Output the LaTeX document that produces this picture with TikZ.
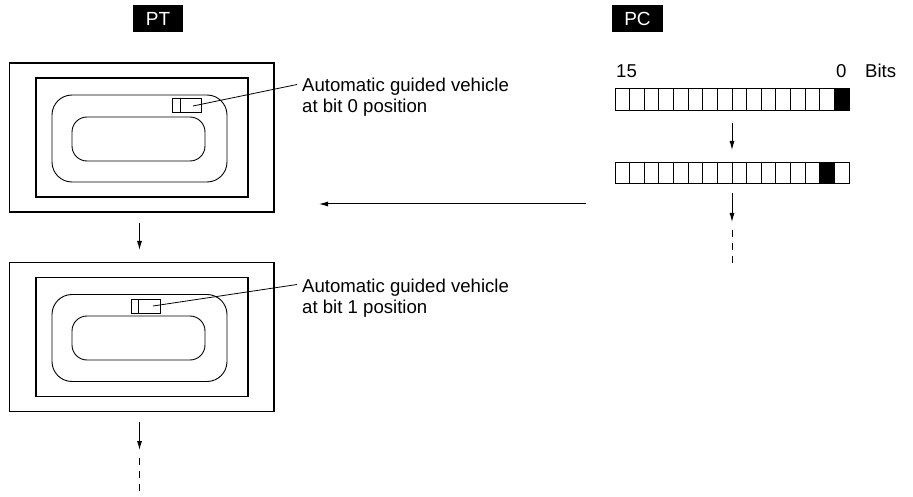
\documentclass[tikz,border=0pt]{standalone}
\usepackage{fontspec}
\setmainfont{Liberation Sans}
\usetikzlibrary{arrows.meta}
\begin{document}
\begin{tikzpicture}[x=1pt,y=-1pt,
  frameouter/.style={draw, line width=1.3pt, rectangle, inner sep=0pt, minimum width=264.5pt, minimum height=149pt},
  frameinner/.style={draw, line width=1.2pt, rectangle, inner sep=0pt, minimum width=212pt, minimum height=119pt},
  trackout/.style={draw, line width=0.9pt, rectangle, rounded corners=20pt, inner sep=0pt, minimum width=175pt, minimum height=87pt},
  trackin/.style={draw, line width=0.9pt, rectangle, rounded corners=15pt, inner sep=0pt, minimum width=133pt, minimum height=44pt},
  vehicle/.style={draw, line width=1pt, rectangle, inner sep=0pt, minimum width=29pt, minimum height=14pt},
  tag/.style={fill=black, text=white, inner sep=0pt, minimum width=50pt, minimum height=27pt, font=\fontsize{19}{22}\selectfont},
  lbl/.style={inner sep=0pt, anchor=base west, font=\fontsize{18.6}{21}\selectfont},
  cell/.style={draw, line width=0.9pt, rectangle, inner sep=0pt, minimum width=14.625pt, minimum height=22pt},
  darr/.style={line width=1pt, -{Latex[length=9pt,width=5pt]}},
  dashline/.style={line width=1pt, dash pattern=on 7pt off 6pt}
]
\useasboundingbox (0,0) rectangle (913,497);

% tags
\node[tag] (pt) at (158,18.5) {PT};
\node[tag, minimum width=51pt] (pc) at (637.5,18.5) {PC};

% Frame 1
\node[frameouter] (f1o) at (141.75,137.5) {};
\node[frameinner] (f1i) at (142,137.5) {};
\node[trackout] (f1t) at (139.5,138.5) {};
\node[trackin] (f1r) at (138.5,139) {};
\node[vehicle] (v1) at (186.5,106) {};
\draw[line width=1pt] (180,99) -- (180,113);
\node[lbl] (t1a) at (302,92) {Automatic guided vehicle};
\node[lbl] (t1b) at (302,113) {at bit 0 position};
\coordinate (v1p) at (193,106);
\coordinate (t1p) at (297,84.5);
\draw[line width=0.8pt] (v1p) -- (t1p);

% Frame 2
\node[frameouter] (f2o) at (141.75,337) {};
\node[frameinner] (f2i) at (142,337) {};
\node[trackout] (f2t) at (139.5,338) {};
\node[trackin] (f2r) at (138.5,338) {};
\node[vehicle] (v2) at (146,306) {};
\draw[line width=1pt] (138,299) -- (138,313);
\node[lbl] (t2a) at (302,292) {Automatic guided vehicle};
\node[lbl] (t2b) at (302,313) {at bit 1 position};
\coordinate (v2p) at (153,306);
\coordinate (t2p) at (297,284.5);
\draw[line width=0.8pt] (v2p) -- (t2p);

% left arrows
\coordinate (a1s) at (139.5,223);
\coordinate (a1e) at (139.5,250);
\draw[darr] (a1s) -- (a1e);
\coordinate (a2s) at (139.5,422);
\coordinate (a2e) at (139.5,450);
\draw[darr] (a2s) -- (a2e);
\coordinate (d1s) at (139.5,458);
\coordinate (d1e) at (139.5,497);
\draw[dashline] (d1s) -- (d1e);

% horizontal arrow
\coordinate (hs) at (586,204);
\coordinate (he) at (319,204);
\draw[darr] (hs) -- (he);

% bit labels
\node[lbl] (b15) at (616,78) {15};
\node[lbl] (b0) at (836,78) {0};
\node[lbl] (bits) at (865,78) {Bits};

% bit rows
\foreach \i in {0,...,15}{
  \pgfmathsetmacro{\cx}{615+14.625*\i+7.3125}
  \ifnum\i=15
    \node[cell, fill=black] (r1c\i) at (\cx,99.5) {};
  \else
    \node[cell] (r1c\i) at (\cx,99.5) {};
  \fi
  \ifnum\i=14
    \node[cell, fill=black, minimum height=21pt] (r2c\i) at (\cx,172.5) {};
  \else
    \node[cell, minimum height=21pt] (r2c\i) at (\cx,172.5) {};
  \fi
}

% right arrows
\coordinate (a3s) at (732,123);
\coordinate (a3e) at (732,150);
\draw[darr] (a3s) -- (a3e);
\coordinate (a4s) at (732,193);
\coordinate (a4e) at (732,222);
\draw[darr] (a4s) -- (a4e);
\coordinate (d2s) at (732,230);
\coordinate (d2e) at (732,264);
\draw[dashline] (d2s) -- (d2e);
\end{tikzpicture}
\end{document}
